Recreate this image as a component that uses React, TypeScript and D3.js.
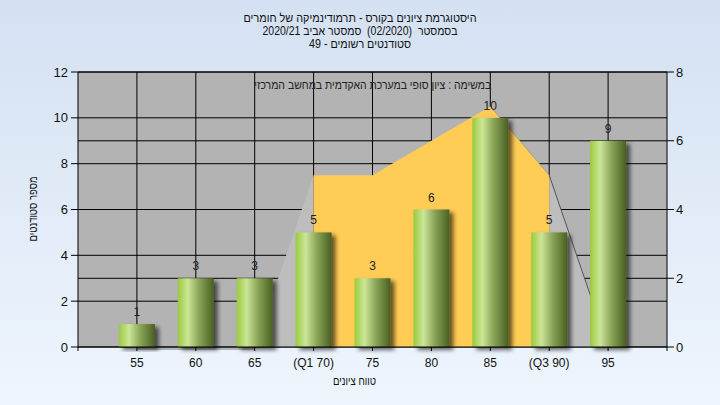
import React from "react";
import * as d3 from "d3";

const grades = [55, 60, 65, 70, 75, 80, 85, 90, 95];
const categoryLabels = ["55", "60", "65", "(Q1 70)", "75", "80", "85", "(Q3 90)", "95"];
const counts = [1, 3, 3, 5, 3, 6, 10, 5, 9];
const distribution = [0, 0, 0, 5, 5, 6, 7, 5, 0];
const leftTicks = [0, 2, 4, 6, 8, 10, 12];
const rightTicks = [0, 2, 4, 6, 8];
const q1Index = 3;
const q3Index = 7;

const titleLines = [
  "היסטוגרמת ציונים בקורס - תרמודינמיקה של חומרים",
  "בסמסטר  (02/2020)  סמסטר אביב 2020/21",
  "סטודנטים רשומים - 49",
];
const subtitle = "במשימה : ציון סופי במערכת האקדמית במחשב המרכזי";
const xTitle = "טווח ציונים";
const yTitle = "מספר סטודנטים";

const W = 720;
const H = 405;
const L = 78;
const R = 667;
const T = 72;
const B = 347;
const FONT = "Arial, 'Liberation Sans', sans-serif";
const titleWidths = [233, 195, 102];

export default function App() {
  const x = d3.scaleLinear().domain([50, 100]).range([L, R]);
  const yL = d3.scaleLinear().domain([0, 12]).range([B, T]);
  const yR = d3.scaleLinear().domain([0, 8]).range([B, T]);
  const barW = 36;

  const pts = grades.map((g, i) => ({ g, v: distribution[i], i }));
  const area = d3
    .area<{ g: number; v: number; i: number }>()
    .x((d) => x(d.g))
    .y0(B)
    .y1((d) => yR(d.v));
  const line = d3
    .line<{ g: number; v: number; i: number }>()
    .x((d) => x(d.g))
    .y((d) => yR(d.v));

  const grayLeft = pts.slice(q1Index - 1, q1Index + 1);
  const yellow = pts.slice(q1Index, q3Index + 1);
  const grayRight = pts.slice(q3Index, q3Index + 2);

  const hGrid = Array.from(
    new Set([...leftTicks.map((t) => Math.round(yL(t) * 10) / 10), ...rightTicks.map((t) => Math.round(yR(t) * 10) / 10)])
  );

  return (
    <svg
      width={W}
      height={H}
      style={{ position: "absolute", left: 0, top: 0 }}
      fontFamily={FONT}
    >
      <defs>
        <linearGradient id="bg" x1="0" y1="0" x2="0" y2="1">
          <stop offset="0%" stopColor="#d4e1f2" />
          <stop offset="100%" stopColor="#eef5fd" />
        </linearGradient>
        <linearGradient id="bar" x1="0" y1="0" x2="1" y2="0">
          <stop offset="0%" stopColor="#9acb3e" />
          <stop offset="28%" stopColor="#cce597" />
          <stop offset="60%" stopColor="#88a356" />
          <stop offset="100%" stopColor="#4a5f22" />
        </linearGradient>
        <filter id="shadow" x="-20%" y="-10%" width="160%" height="130%">
          <feDropShadow dx="4" dy="3" stdDeviation="2" floodColor="#000" floodOpacity="0.6" />
        </filter>
      </defs>
      <rect x={0} y={0} width={W} height={H} fill="url(#bg)" />

      {/* titles */}
      {titleLines.map((t, i) => (
        <text
          key={i}
          x={360}
          y={22 + i * 13}
          textAnchor="middle"
          direction="rtl"
          fontSize={12}
          fill="#111"
          textLength={titleWidths[i]}
          lengthAdjust="spacingAndGlyphs"
          style={{ whiteSpace: "pre" }}
        >
          {t}
        </text>
      ))}

      {/* plot background */}
      <rect x={L} y={T} width={R - L} height={B - T} fill="#b3b3b3" />

      {/* grid */}
      {hGrid.map((y, i) => (
        <line key={"h" + i} x1={L} x2={R} y1={y} y2={y} stroke="#000" strokeWidth={1} />
      ))}
      {grades.map((g, i) => (
        <line key={"v" + i} x1={x(g)} x2={x(g)} y1={T} y2={B} stroke="#000" strokeWidth={1} />
      ))}

      {/* distribution area */}
      <path d={area(grayLeft) || ""} fill="#bdbdbd" />
      <path d={area(grayRight) || ""} fill="#bdbdbd" />
      <path d={area(yellow) || ""} fill="#ffcc55" />
      <path d={line(pts.slice(q3Index - 1, q3Index + 1)) || ""} fill="none" stroke="#8a8a8a" strokeOpacity={0.6} strokeWidth={1} />
      <path d={line(grayRight) || ""} fill="none" stroke="#555" strokeWidth={1} />
      <path
        d={line(pts.slice(0, q1Index)) || ""}
        transform="translate(0,2)"
        fill="none"
        stroke="#777"
        strokeWidth={1}
      />

      {/* subtitle */}
      <text
        x={372.8}
        y={89}
        textAnchor="middle"
        direction="rtl"
        fontSize={12}
        fill="#222"
        textLength={237}
        lengthAdjust="spacingAndGlyphs"
      >
        {subtitle}
      </text>

      {/* bars */}
      {grades.map((g, i) => (
        <rect
          key={"b" + i}
          x={x(g) - barW / 2}
          y={yL(counts[i])}
          width={barW}
          height={B - yL(counts[i])}
          fill="url(#bar)"
          filter="url(#shadow)"
        />
      ))}
      {grades.map((g, i) => (
        <text
          key={"l" + i}
          x={x(g)}
          y={yL(counts[i]) - 8}
          textAnchor="middle"
          fontSize={12}
          fill="#222"
        >
          {counts[i]}
        </text>
      ))}

      {/* axes */}
      <line x1={L} x2={L} y1={T} y2={B + 4} stroke="#000" />
      <line x1={R} x2={R} y1={T} y2={B + 4} stroke="#000" />
      <line x1={L} x2={R} y1={B} y2={B} stroke="#000" />
      <line x1={L} x2={R} y1={T} y2={T} stroke="#000" />
      {leftTicks.map((t) => (
        <g key={"lt" + t}>
          <line x1={L - 7} x2={L} y1={yL(t)} y2={yL(t)} stroke="#000" />
          <text x={L - 10} y={yL(t) + 4.5} textAnchor="end" fontSize={13} fill="#111">
            {t}
          </text>
        </g>
      ))}
      {rightTicks.map((t) => (
        <g key={"rt" + t}>
          <line x1={R} x2={R + 7} y1={yR(t)} y2={yR(t)} stroke="#000" />
          <text x={R + 9} y={yR(t) + 4.5} textAnchor="start" fontSize={13} fill="#111">
            {t}
          </text>
        </g>
      ))}
      {grades.map((g, i) => (
        <g key={"xt" + i}>
          <line x1={x(g)} x2={x(g)} y1={B} y2={B + 4} stroke="#000" />
          <text x={x(g)} y={367} textAnchor="middle" fontSize={12} fill="#111">
            {categoryLabels[i]}
          </text>
        </g>
      ))}

      <text
        x={354.5}
        y={385}
        textAnchor="middle"
        direction="rtl"
        fontSize={12}
        fill="#111"
        textLength={43}
        lengthAdjust="spacingAndGlyphs"
      >
        {xTitle}
      </text>
      <text
        transform={`translate(37,${209}) rotate(-90)`}
        textAnchor="middle"
        direction="rtl"
        fontSize={12}
        fill="#111"
        textLength={65}
        lengthAdjust="spacingAndGlyphs"
      >
        {yTitle}
      </text>
    </svg>
  );
}
